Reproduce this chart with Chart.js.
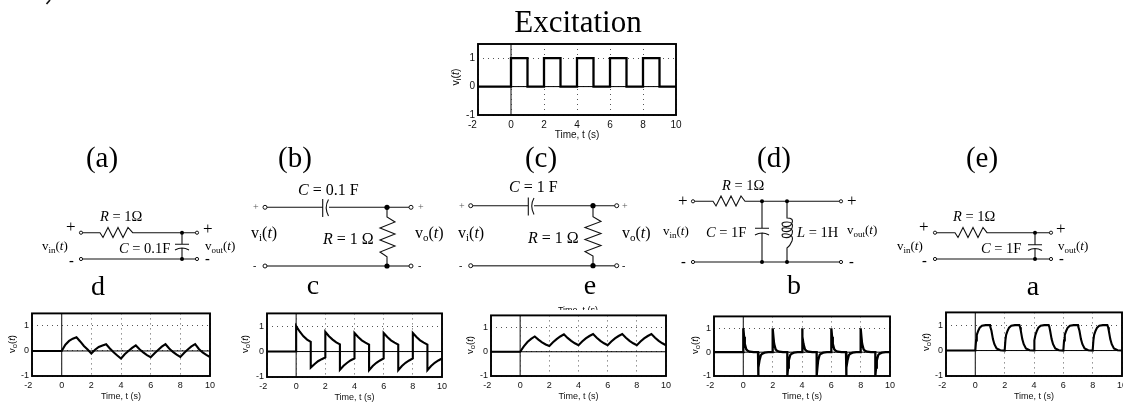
<!DOCTYPE html>
<html>
<head>
<meta charset="utf-8">
<title>Excitation</title>
<script src="https://cdn.jsdelivr.net/npm/chart.js@4"></script>
<style>
  html, body { margin: 0; padding: 0; background: #fff; overflow: hidden; width: 1123px; height: 403px; }
  canvas { position: absolute; }
  svg { position: absolute; left: 0; top: 0; will-change: opacity; }
  text { font-family: "Liberation Serif", serif; fill: #000; }
  .big { font-size: 28px; text-anchor: middle; }
  .ylab { font-family: "Liberation Sans", sans-serif; font-size: 9.5px; text-anchor: middle; }
  .lbl14 { font-size: 14.5px; }
  .lbl16 { font-size: 16px; }
  .plus { font-size: 17px; }
  .volt { font-size: 13px; }
  .w { fill: none; stroke: #111; stroke-width: 1.1; }
  .g { fill: none; stroke: #555; stroke-width: 1.6; }
  .o { fill: #fff; stroke: #111; stroke-width: 1; }
  .n { fill: #000; }
</style>
</head>
<body>
<svg width="1123" height="403" xmlns="http://www.w3.org/2000/svg">
  <defs><clipPath id="cutTop"><rect x="540" y="300" width="80" height="10"/></clipPath></defs>
  <path class="w" d="M50 0 L46.5 4" style="stroke-width:1.6"/>
  <text x="578" y="31.5" style="font-size:31px;text-anchor:middle">Excitation</text>
  <text class="big" x="102" y="167" style="font-size:29px">(a)</text>
  <text class="big" x="295" y="167" style="font-size:29px">(b)</text>
  <text class="big" x="541" y="167" style="font-size:29px">(c)</text>
  <text class="big" x="774" y="167" style="font-size:29px">(d)</text>
  <text class="big" x="982" y="167" style="font-size:29px">(e)</text>
  <text class="big" x="98" y="295">d</text>
  <text class="big" x="313" y="294">c</text>
  <text class="big" x="590" y="294">e</text>
  <text class="big" x="794" y="294">b</text>
  <text class="big" x="1033" y="295">a</text>
  <text clip-path="url(#cutTop)" x="578" y="313" style="font-family:'Liberation Sans';font-size:9px;text-anchor:middle">Time, t (s)</text>

  <!-- circuit a -->
  <path class="w" d="M81 232.7 H100 L103 237.5 L108 227.5 L113 237.5 L118 227.5 L123 237.5 L128 227.5 L132.7 232.7 H197"/>
  <path class="w" d="M81 259 H197 M182 232.7 V244.3 M175 244.3 H189 M175 250 Q182 246 189 250 M182 248 V259"/>
  <circle class="o" cx="81" cy="232.7" r="1.6"/><circle class="o" cx="197" cy="232.7" r="1.6"/>
  <circle class="o" cx="81" cy="259" r="1.6"/><circle class="o" cx="197" cy="259" r="1.6"/>
  <circle class="n" cx="182" cy="232.7" r="2"/><circle class="n" cx="182" cy="259" r="2"/>
  <text class="plus" x="66" y="232">+</text><text class="plus" x="203" y="234">+</text>
  <text class="lbl14" x="69" y="265" style="font-weight:bold">-</text><text class="lbl14" x="205" y="263" style="font-weight:bold">-</text>
  <text class="lbl14" x="100" y="221"><tspan font-style="italic">R</tspan> = 1Ω</text>
  <text class="lbl14" x="119" y="252.7"><tspan font-style="italic">C</tspan> = 0.1F</text>
  <text class="volt" x="42" y="250">v<tspan dy="3" font-size="9">in</tspan><tspan dy="-3">(</tspan><tspan font-style="italic">t</tspan>)</text>
  <text class="volt" x="205" y="250">v<tspan dy="3" font-size="9">out</tspan><tspan dy="-3">(</tspan><tspan font-style="italic">t</tspan>)</text>

  <!-- circuit b -->
  <path class="w" d="M265 207.3 H322.7 M322.7 199 V217 M329 207.3 H411 M387 207.3 V217 L395 222 L380 228 L395 234 L380 240 L395 246 L380 252 L387 256.7 V266"/>
  <path class="w" d="M328.5 199.5 Q324 207.3 328.5 216"/>
  <path class="g" d="M265 266 H411"/>
  <circle class="o" cx="265" cy="207.3" r="2"/><circle class="o" cx="411" cy="207.3" r="2"/>
  <circle class="o" cx="265" cy="266" r="2"/><circle class="o" cx="411" cy="266" r="2"/>
  <circle class="n" cx="387" cy="207.3" r="2.6"/><circle class="n" cx="387" cy="266" r="2.6"/>
  <text x="253" y="210" style="font-size:10px;fill:#555">+</text><text x="418" y="210" style="font-size:10px;fill:#555">+</text>
  <text x="253" y="269" style="font-size:10px">-</text><text x="418" y="269" style="font-size:10px">-</text>
  <text class="lbl16" x="298" y="195"><tspan font-style="italic">C</tspan> = 0.1 F</text>
  <text class="lbl16" x="251" y="238">v<tspan dy="3" font-size="11">i</tspan><tspan dy="-3">(</tspan><tspan font-style="italic">t</tspan>)</text>
  <text class="lbl16" x="323" y="244"><tspan font-style="italic">R</tspan> = 1 Ω</text>
  <text class="lbl16" x="415" y="238">v<tspan dy="3" font-size="11">o</tspan><tspan dy="-3">(</tspan><tspan font-style="italic">t</tspan>)</text>

  <!-- circuit c -->
  <path class="w" d="M470.7 205.7 H528.3 M528.3 197.5 V215.5 M534 205.7 H616.7 M593 205.7 V216.7 L601 221.5 L585 227.5 L601 233.5 L585 239.5 L601 245.5 L585 251.5 L593 256 V265.7"/>
  <path class="w" d="M534 198 Q529.5 205.7 534 214.5"/>
  <path class="g" d="M470.7 265.7 H616.7"/>
  <circle class="o" cx="470.7" cy="205.7" r="2"/><circle class="o" cx="616.7" cy="205.7" r="2"/>
  <circle class="o" cx="470.7" cy="265.7" r="2"/><circle class="o" cx="616.7" cy="265.7" r="2"/>
  <circle class="n" cx="593" cy="205.7" r="2.6"/><circle class="n" cx="593" cy="265.7" r="2.6"/>
  <text x="459" y="209" style="font-size:10px;fill:#555">+</text><text x="622" y="209" style="font-size:10px;fill:#555">+</text>
  <text x="459" y="269" style="font-size:10px">-</text><text x="622" y="269" style="font-size:10px">-</text>
  <text class="lbl16" x="509" y="192"><tspan font-style="italic">C</tspan> = 1 F</text>
  <text class="lbl16" x="458" y="238">v<tspan dy="3" font-size="11">i</tspan><tspan dy="-3">(</tspan><tspan font-style="italic">t</tspan>)</text>
  <text class="lbl16" x="528" y="243"><tspan font-style="italic">R</tspan> = 1 Ω</text>
  <text class="lbl16" x="622" y="238">v<tspan dy="3" font-size="11">o</tspan><tspan dy="-3">(</tspan><tspan font-style="italic">t</tspan>)</text>

  <!-- circuit d -->
  <path class="w" d="M693 201.3 H713 L716 206 L721 196 L726 206 L731 196 L736 206 L741 196 L745 201.3 H841"/>
  <path class="w" d="M693 262 H841 M762 201.3 V228.3 M755 228.3 H769 M755 235 Q762 231 769 235 M762 233 V262"/>
  <path class="w" d="M787 201.3 V218 Q794 218 792 223 Q790 228 783 226 Q780 222 787 222 Q794 222 792 228 Q790 233 783 231 Q780 227 787 228 Q794 228 792 234 Q790 239 783 237 Q780 233 787 234 Q794 235 792 241 Q790 246 787 248 V262"/>
  <circle class="o" cx="693" cy="201.3" r="1.6"/><circle class="o" cx="841" cy="201.3" r="1.6"/>
  <circle class="o" cx="693" cy="262" r="1.6"/><circle class="o" cx="841" cy="262" r="1.6"/>
  <circle class="n" cx="762" cy="201.3" r="2"/><circle class="n" cx="787" cy="201.3" r="2"/>
  <circle class="n" cx="762" cy="262" r="2"/><circle class="n" cx="787" cy="262" r="2"/>
  <text class="plus" x="678" y="205.5">+</text><text class="plus" x="847" y="205.5">+</text>
  <text class="lbl14" x="681" y="266" style="font-weight:bold">-</text><text class="lbl14" x="849" y="266" style="font-weight:bold">-</text>
  <text class="lbl14" x="722" y="190"><tspan font-style="italic">R</tspan> = 1Ω</text>
  <text class="lbl14" x="706" y="236.7"><tspan font-style="italic">C</tspan> = 1F</text>
  <text class="lbl14" x="797" y="236.7"><tspan font-style="italic">L</tspan> = 1H</text>
  <text class="volt" x="663" y="235">v<tspan dy="3" font-size="9">in</tspan><tspan dy="-3">(</tspan><tspan font-style="italic">t</tspan>)</text>
  <text class="volt" x="847" y="234">v<tspan dy="3" font-size="9">out</tspan><tspan dy="-3">(</tspan><tspan font-style="italic">t</tspan>)</text>

  <!-- circuit e -->
  <path class="w" d="M935 232.7 H955 L958 237.5 L963 227.5 L968 237.5 L973 227.5 L978 237.5 L983 227.5 L987 232.7 H1051"/>
  <path class="w" d="M935 259 H1051 M1035 232.7 V244.7 M1028 244.7 H1042 M1028 250.5 Q1035 246.5 1042 250.5 M1035 248.5 V259"/>
  <circle class="o" cx="935" cy="232.7" r="1.6"/><circle class="o" cx="1051" cy="232.7" r="1.6"/>
  <circle class="o" cx="935" cy="259" r="1.6"/><circle class="o" cx="1051" cy="259" r="1.6"/>
  <circle class="n" cx="1035" cy="232.7" r="2"/><circle class="n" cx="1035" cy="259" r="2"/>
  <text class="plus" x="919" y="232">+</text><text class="plus" x="1056" y="234">+</text>
  <text class="lbl14" x="922" y="265" style="font-weight:bold">-</text><text class="lbl14" x="1059" y="263" style="font-weight:bold">-</text>
  <text class="lbl14" x="953" y="221"><tspan font-style="italic">R</tspan> = 1Ω</text>
  <text class="lbl14" x="981" y="252.7"><tspan font-style="italic">C</tspan> = 1F</text>
  <text class="volt" x="897" y="250">v<tspan dy="3" font-size="9">in</tspan><tspan dy="-3">(</tspan><tspan font-style="italic">t</tspan>)</text>
  <text class="volt" x="1058" y="250">v<tspan dy="3" font-size="9">out</tspan><tspan dy="-3">(</tspan><tspan font-style="italic">t</tspan>)</text>

  <!-- y axis labels -->
  <text class="ylab" transform="translate(459,77) rotate(-90)" style="font-size:10.5px">v<tspan dy="2" font-size="7.5">i</tspan><tspan dy="-2">(</tspan><tspan font-style="italic">t</tspan>)</text>
  <text class="ylab" transform="translate(15,344) rotate(-90)">v<tspan dy="2" font-size="7.5">o</tspan><tspan dy="-2">(</tspan><tspan font-style="italic">t</tspan>)</text>
  <text class="ylab" transform="translate(248,344) rotate(-90)">v<tspan dy="2" font-size="7.5">o</tspan><tspan dy="-2">(</tspan><tspan font-style="italic">t</tspan>)</text>
  <text class="ylab" transform="translate(473,345) rotate(-90)">v<tspan dy="2" font-size="7.5">o</tspan><tspan dy="-2">(</tspan><tspan font-style="italic">t</tspan>)</text>
  <text class="ylab" transform="translate(698,345) rotate(-90)">v<tspan dy="2" font-size="7.5">o</tspan><tspan dy="-2">(</tspan><tspan font-style="italic">t</tspan>)</text>
  <text class="ylab" transform="translate(929,342) rotate(-90)">v<tspan dy="2" font-size="7.5">o</tspan><tspan dy="-2">(</tspan><tspan font-style="italic">t</tspan>)</text>
</svg>

<canvas id="plotExc"></canvas>
<canvas id="plotD"></canvas>
<canvas id="plotC"></canvas>
<canvas id="plotE"></canvas>
<canvas id="plotB"></canvas>
<canvas id="plotA"></canvas>

<script>
// valeurs
var stepTime = [-2, 0, 0, 1, 1, 2, 2, 3, 3, 4, 4, 5, 5, 6, 6, 7, 7, 8, 8, 9, 9, 10];
var excitation = [0, 0, 1, 1, 0, 0, 1, 1, 0, 0, 1, 1, 0, 0, 1, 1, 0, 0, 1, 1, 0, 0];

var coarseTime = [-2,
  0, 0.25, 0.5, 0.75, 1, 1.25, 1.5, 1.75, 2, 2.25, 2.5, 2.75, 3, 3.25, 3.5, 3.75, 4, 4.25, 4.5, 4.75,
  5, 5.25, 5.5, 5.75, 6, 6.25, 6.5, 6.75, 7, 7.25, 7.5, 7.75, 8, 8.25, 8.5, 8.75, 9, 9.25, 9.5, 9.75, 10];
var outputD = [0,
  0, 0.25, 0.4, 0.49, 0.55, 0.38, 0.2, 0.06, -0.1, 0.05, 0.16, 0.22, 0.27, 0.1, -0.05, -0.18, -0.3, -0.13, 0, 0.12,
  0.22, 0.07, -0.06, -0.17, -0.25, -0.1, 0.04, 0.17, 0.27, 0.1, -0.04, -0.15, -0.24, -0.08, 0.06, 0.18, 0.27, 0.08, -0.06, -0.16, -0.24];
var outputE = [0,
  0, 0.22, 0.4, 0.53, 0.63, 0.5, 0.39, 0.3, 0.24, 0.39, 0.52, 0.63, 0.72, 0.57, 0.45, 0.35, 0.27, 0.42, 0.55, 0.65,
  0.73, 0.58, 0.45, 0.35, 0.27, 0.42, 0.55, 0.65, 0.73, 0.58, 0.45, 0.35, 0.27, 0.42, 0.55, 0.65, 0.73, 0.58, 0.45, 0.35, 0.27];

var jumpTime = [-2,
  0, 0, 0.25, 0.5, 0.75, 1, 1, 1.25, 1.5, 1.75, 2, 2, 2.25, 2.5, 2.75, 3, 3, 3.25, 3.5, 3.75, 4, 4, 4.25, 4.5, 4.75,
  5, 5, 5.25, 5.5, 5.75, 6, 6, 6.25, 6.5, 6.75, 7, 7, 7.25, 7.5, 7.75, 8, 8, 8.25, 8.5, 8.75, 9, 9, 9.25, 9.5, 9.75, 10];
var outputC = [0,
  0, 1, 0.78, 0.6, 0.47, 0.38, -0.63, -0.5, -0.38, -0.3, -0.23, 0.77, 0.6, 0.47, 0.36, 0.28, -0.72, -0.56, -0.44, -0.34, -0.27, 0.73, 0.57, 0.44, 0.35,
  0.27, -0.73, -0.57, -0.44, -0.35, -0.27, 0.73, 0.57, 0.44, 0.35, 0.27, -0.73, -0.57, -0.44, -0.35, -0.27, 0.73, 0.57, 0.44, 0.35, 0.27, -0.73, -0.57, -0.44, -0.35, -0.27];

var fineTime = [-2,
  0, 0, 0.05, 0.1, 0.2, 0.3, 0.45, 0.7,
  1, 1, 1.05, 1.1, 1.2, 1.3, 1.45, 1.7,
  2, 2, 2.05, 2.1, 2.2, 2.3, 2.45, 2.7,
  3, 3, 3.05, 3.1, 3.2, 3.3, 3.45, 3.7,
  4, 4, 4.05, 4.1, 4.2, 4.3, 4.45, 4.7,
  5, 5, 5.05, 5.1, 5.2, 5.3, 5.45, 5.7,
  6, 6, 6.05, 6.1, 6.2, 6.3, 6.45, 6.7,
  7, 7, 7.05, 7.1, 7.2, 7.3, 7.45, 7.7,
  8, 8, 8.05, 8.1, 8.2, 8.3, 8.45, 8.7,
  9, 9, 9.05, 9.1, 9.2, 9.3, 9.45, 9.7, 10];
var outputB = [0,
  0, 1, 0.65, 0.35, 0.12, 0.06, 0.02, 0,
  0, -1, -0.65, -0.35, -0.12, -0.06, -0.02, 0,
  0, 1, 0.65, 0.35, 0.12, 0.06, 0.02, 0,
  0, -1, -0.65, -0.35, -0.12, -0.06, -0.02, 0,
  0, 1, 0.65, 0.35, 0.12, 0.06, 0.02, 0,
  0, -1, -0.65, -0.35, -0.12, -0.06, -0.02, 0,
  0, 1, 0.65, 0.35, 0.12, 0.06, 0.02, 0,
  0, -1, -0.65, -0.35, -0.12, -0.06, -0.02, 0,
  0, 1, 0.65, 0.35, 0.12, 0.06, 0.02, 0,
  0, -1, -0.65, -0.35, -0.12, -0.06, -0.02, 0, 0];
var outputA = [0,
  0, 0, 0.4, 0.62, 0.78, 0.9, 0.98, 1,
  1, 1, 0.92, 0.78, 0.45, 0.25, 0.08, 0.01,
  0, 0, 0.4, 0.62, 0.78, 0.9, 0.98, 1,
  1, 1, 0.92, 0.78, 0.45, 0.25, 0.08, 0.01,
  0, 0, 0.4, 0.62, 0.78, 0.9, 0.98, 1,
  1, 1, 0.92, 0.78, 0.45, 0.25, 0.08, 0.01,
  0, 0, 0.4, 0.62, 0.78, 0.9, 0.98, 1,
  1, 1, 0.92, 0.78, 0.45, 0.25, 0.08, 0.01,
  0, 0, 0.4, 0.62, 0.78, 0.9, 0.98, 1,
  1, 1, 0.92, 0.78, 0.45, 0.25, 0.08, 0.01, 0];

var xTicks = [-2, 0, 2, 4, 6, 8, 10];
var yTicks = [-1, 0, 1];
var xRange = [-2, 10];
var yRange = [-1, 1.5];

var xLabel = 'Time, t (s)';

function points(xs, ys) {
  return xs.map(function(x, i) { return { x: x, y: ys[i] }; });
}

// cadre complet autour de la zone de tracé
var framePlugin = {
  id: 'frame',
  afterDatasetsDraw: function(chart, args, opts) {
    var a = chart.chartArea, c = chart.ctx;
    c.save();
    c.strokeStyle = '#000';
    c.lineWidth = opts.width;
    c.strokeRect(a.left, a.top, a.right - a.left, a.bottom - a.top);
    c.restore();
  }
};

function makePlot(id, xs, ys, box, fontSize, lineWidth) {
  var leftMargin = 30, rightMargin = 14, topMargin = 4, bottomMargin = 30;
  var canvas = document.getElementById(id);
  canvas.width = box.right - box.left + leftMargin + rightMargin;
  canvas.height = box.bottom - box.top + topMargin + bottomMargin;
  canvas.style.left = (box.left - leftMargin) + 'px';
  canvas.style.top = (box.top - topMargin) + 'px';

  return new Chart(canvas.getContext('2d'), {
    type: 'scatter',
    plugins: [framePlugin],
    data: {
      datasets: [
        { data: points(xRange, [0, 0]), showLine: true, borderColor: '#000', borderWidth: 1, pointRadius: 0, order: 3 },
        { data: points([0, 0], yRange), showLine: true, borderColor: '#333', borderWidth: 1.2, pointRadius: 0, order: 2 },
        { data: points(xs, ys), showLine: true, borderColor: '#000', borderWidth: lineWidth, pointRadius: 0, tension: 0, order: 1 }
      ]
    },
    options: {
      responsive: false,
      animation: false,
      layout: { padding: { top: topMargin, right: rightMargin, left: 0, bottom: 0 } },
      plugins: { legend: { display: false }, tooltip: { enabled: false }, frame: { width: 1.9 } },
      scales: {
        x: {
          type: 'linear',
          min: xRange[0],
          max: xRange[1],
          afterFit: function(scale) { scale.height = bottomMargin; },
          afterBuildTicks: function(scale) { scale.ticks = xTicks.map(function(v) { return { value: v }; }); },
          grid: { color: '#555', drawTicks: false },
          border: { display: false, dash: [1, 4] },
          title: { display: true, text: xLabel, color: '#111', padding: { top: 0, bottom: 4 },
            font: { family: 'Liberation Sans', size: fontSize } },
          ticks: {
            maxRotation: 0,
            autoSkip: false,
            padding: 4,
            color: '#111',
            font: { family: 'Liberation Sans', size: fontSize },
            callback: function(value) {
              if (value === -2) return fontSize === 10 ? '-2    ' : '-2   ';
              return String(value);
            }
          }
        },
        y: {
          type: 'linear',
          min: yRange[0],
          max: yRange[1],
          afterFit: function(scale) { scale.width = leftMargin; },
          afterBuildTicks: function(scale) { scale.ticks = yTicks.map(function(v) { return { value: v }; }); },
          grid: { color: '#555', drawTicks: false },
          border: { display: false, dash: [1, 4] },
          ticks: {
            padding: 3,
            color: '#111',
            font: { family: 'Liberation Sans', size: fontSize }
          }
        }
      }
    }
  });
}

document.addEventListener('DOMContentLoaded', function() {
  makePlot('plotExc', stepTime, excitation, { left: 478, right: 676, top: 39, bottom: 115 }, 10, 2.3);
  makePlot('plotD', coarseTime, outputD, { left: 32, right: 210, top: 309, bottom: 376 }, 9, 2.1);
  makePlot('plotC', jumpTime, outputC, { left: 267, right: 442, top: 309, bottom: 377 }, 9, 2.1);
  makePlot('plotE', coarseTime, outputE, { left: 491, right: 666, top: 311, bottom: 376 }, 9, 2.1);
  makePlot('plotB', fineTime, outputB, { left: 714, right: 890, top: 312, bottom: 376 }, 9, 2.3);
  makePlot('plotA', fineTime, outputA, { left: 946, right: 1122, top: 308, bottom: 376 }, 9, 2.1);
});
</script>
</body>
</html>
